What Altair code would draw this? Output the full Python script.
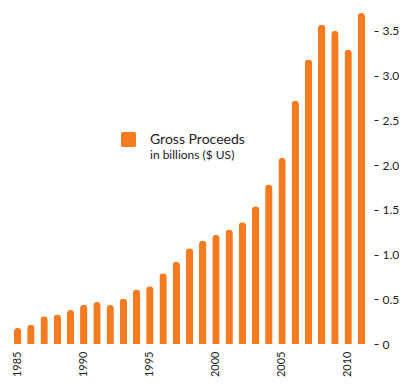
import altair as alt
import pandas as pd

years = list(range(1985, 2012))
proceeds = [0.18, 0.215, 0.31, 0.33, 0.38, 0.44, 0.47, 0.435, 0.51, 0.61, 0.645,
            0.79, 0.92, 1.07, 1.155, 1.22, 1.28, 1.36, 1.54, 1.78, 2.08,
            2.72, 3.18, 3.57, 3.50, 3.29, 3.70]
series_name = "Gross Proceeds"
subtitle = "in billions ($ US)"
y_ticks = [0, 0.5, 1.0, 1.5, 2.0, 2.5, 3.0, 3.5]
x_label_years = [1985, 1990, 1995, 2000, 2005, 2010]

ORANGE = "#F47B20"
FONT = "Lato"

df = pd.DataFrame({"year": years, "value": proceeds, "series": series_name})

rounded_square = "M-0.75,-1H0.75Q1,-1,1,-0.75V0.75Q1,1,0.75,1H-0.75Q-1,1,-1,0.75V-0.75Q-1,-1,-0.75,-1Z"

bars = alt.Chart(df).mark_bar(cornerRadiusTopLeft=3.5, cornerRadiusTopRight=3.5).encode(
    x=alt.X("year:O",
            scale=alt.Scale(paddingInner=0.44, paddingOuter=0.45),
            axis=alt.Axis(title=None, values=x_label_years, labelAngle=-90,
                          domain=False, ticks=False, labelPadding=7,
                          labelFontSize=11, labelColor="#222", labelFont=FONT)),
    y=alt.Y("value:Q",
            scale=alt.Scale(domain=[0, 3.757], nice=False),
            axis=alt.Axis(title=None, orient="right", values=y_ticks, grid=False,
                          domain=False, tickSize=4, tickColor="#222", offset=3,
                          labelPadding=4, labelFontSize=12, labelColor="#222",
                          labelFont=FONT,
                          labelExpr="datum.value == 0 ? '0' : format(datum.value, '.1f')")),
    color=alt.Color("series:N", scale=alt.Scale(range=[ORANGE]),
                    legend=alt.Legend(title=None, orient="none", legendX=113, legendY=124,
                                      symbolType=rounded_square, symbolSize=225,
                                      symbolStrokeWidth=0, labelFontSize=14,
                                      labelFont=FONT, labelColor="#222", labelOffset=14)),
)

sub = alt.Chart(pd.DataFrame({"t": [subtitle]})).mark_text(
    align="left", baseline="alphabetic", fontSize=12, font=FONT, color="#222"
).encode(text="t:N", x=alt.value(142), y=alt.value(151))

chart = alt.layer(bars, sub).properties(
    width=363, height=336, padding=0
).configure_view(stroke=None)

chart.save("out.html", embed_options={"renderer": "svg", "actions": False})
